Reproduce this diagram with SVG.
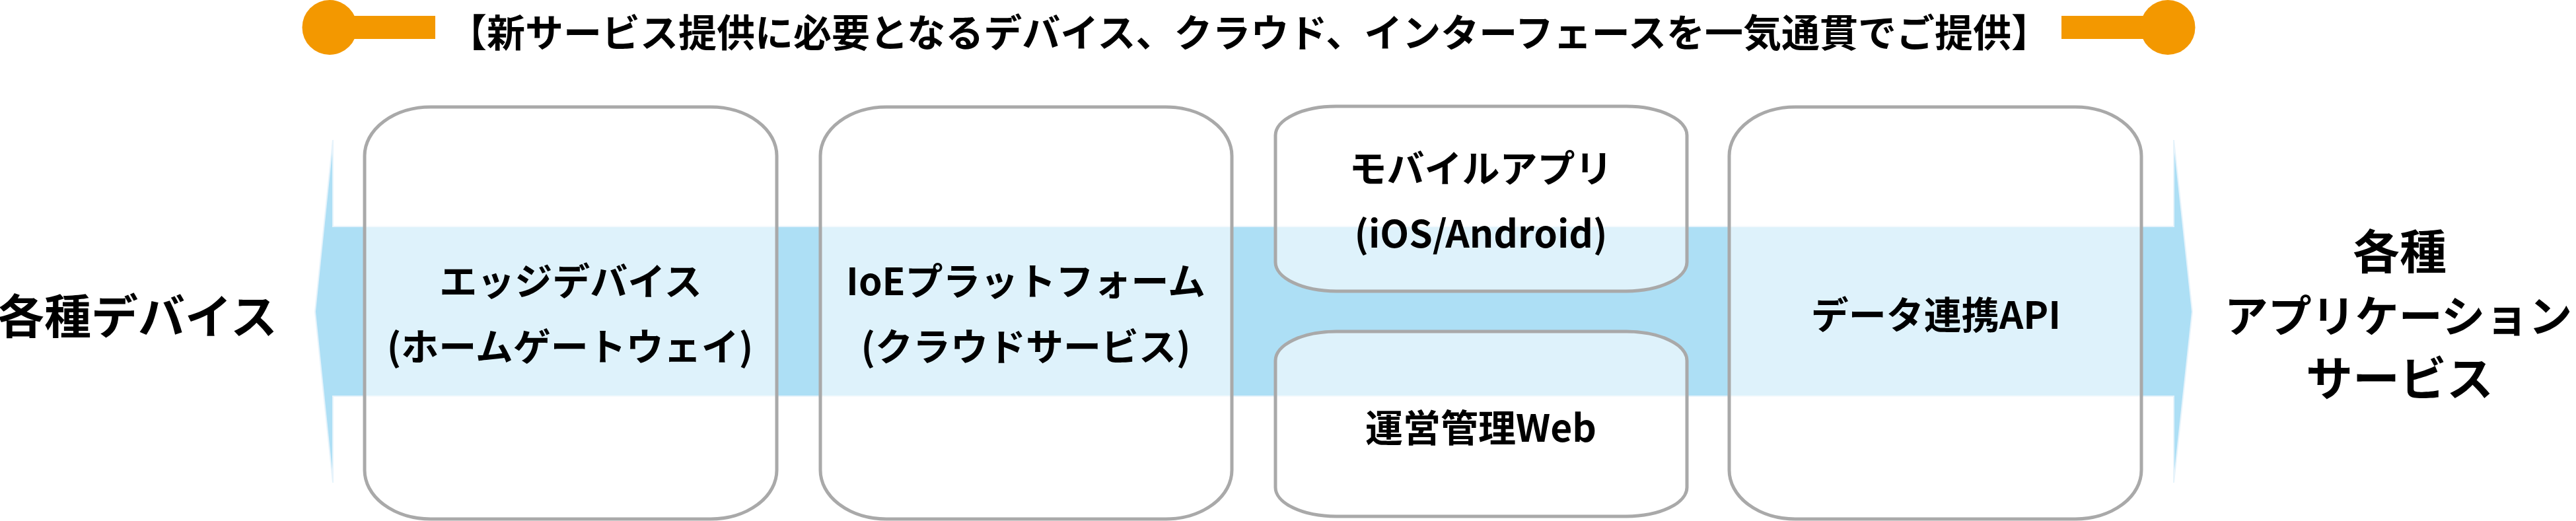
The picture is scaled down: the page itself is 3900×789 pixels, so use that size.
<svg xmlns="http://www.w3.org/2000/svg" width="3900" height="789" viewBox="0 0 3900 789">
<style>
text { font-family: "Noto Sans CJK JP", "Noto Sans", sans-serif; font-weight: 700; fill: #000; text-anchor: middle; }
.t { font-size: 58px; }
.side { font-size: 71px; }
.lbl { font-size: 57px; }
.box { fill: #ffffff; fill-opacity: 0.6; stroke: #a9a9a9; stroke-width: 5; }
.orange { fill: #f39800; }
</style>
<rect x="0" y="0" width="3900" height="789" fill="#ffffff"/>
<g id="title">
  <rect class="orange" x="520" y="24" width="139" height="35"/>
  <circle class="orange" cx="499" cy="41.5" r="41.5"/>
  <rect class="orange" x="3121" y="24" width="140" height="35"/>
  <circle class="orange" cx="3282" cy="41.5" r="41.5"/>
  <text class="t" x="1891" y="71">【新サービス提供に必要となるデバイス、クラウド、インターフェースを一気通貫でご提供】</text>
</g>
<g id="connectors">
  <polygon points="477,472 504,212 504,343 3291,343 3291,212 3319,472 3291,731 3291,600 504,600 504,731" fill="#addff5" stroke="#e6f3fb" stroke-width="2"/>
</g>
<g id="devices">
  <text class="side" x="208" y="505">各種デバイス</text>
</g>
<g id="edge">
  <rect class="box" x="552" y="162" width="624" height="624" rx="100" ry="74"/>
  <text class="lbl" x="864" y="447">エッジデバイス</text>
  <text class="lbl" x="863" y="546">(ホームゲートウェイ)</text>
</g>
<g id="ioe">
  <rect class="box" x="1242" y="162" width="623" height="624" rx="100" ry="74"/>
  <text class="lbl" x="1553" y="447">IoEプラットフォーム</text>
  <text class="lbl" x="1553" y="546">(クラウドサービス)</text>
</g>
<g id="mobile">
  <rect class="box" x="1931" y="161" width="623" height="280" rx="92" ry="44"/>
  <text class="lbl" x="2242" y="276">モバイルアプリ</text>
  <text class="lbl" x="2242" y="375">(iOS/Android)</text>
</g>
<g id="web">
  <rect class="box" x="1931" y="502" width="623" height="280" rx="92" ry="44"/>
  <text class="lbl" x="2242" y="669">運営管理Web</text>
</g>
<g id="api">
  <rect class="box" x="2618" y="162" width="624" height="624" rx="100" ry="74"/>
  <text class="lbl" x="2931" y="498">データ連携API</text>
</g>
<g id="apps">
  <text class="side" x="3633" y="407">各種</text>
  <text class="side" x="3631" y="503" style="font-size:66px">アプリケーション</text>
  <text class="side" x="3633" y="599">サービス</text>
</g>
</svg>
